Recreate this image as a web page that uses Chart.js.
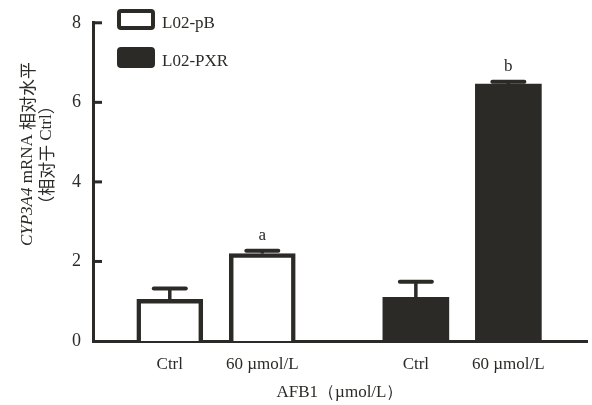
<!DOCTYPE html>
<html>
<head>
<meta charset="utf-8">
<script src="https://cdn.jsdelivr.net/npm/chart.js@4.4.1/dist/chart.umd.min.js"></script>
<style>
  html, body { margin: 0; padding: 0; background: #fff; }
  #wrap { width: 592px; height: 405px; }
</style>
</head>
<body>
<div id="wrap"><canvas id="mrnaChart" width="592" height="405"></canvas></div>
<script>
    // data
    var categories = ['Ctrl', '60 µmol/L'];
    var pbMeans = [1.05, 2.20];
    var pbErrors = [0.27, 0.07];
    var pxrMeans = [1.10, 6.46];
    var pxrErrors = [0.39, 0.06];
    var pbMarks = ['', 'a'];
    var pxrMarks = ['', 'b'];
    var yTicks = [0, 2, 4, 6, 8];

    var ink = '#2b2a26';
    var serif = '"Liberation Serif", "Times New Roman", serif';
    var cjk = '"Noto Sans CJK SC", sans-serif';
    var groupGap = 0.66;

    // x position of each bar: second group pushed right by a gap
    function barPos(group, i) {
        return group * categories.length + i + (group > 0 ? groupGap : 0);
    }
    var tickPositions = [];
    var tickNames = [];
    [0, 1].forEach(function (g) {
        categories.forEach(function (c, i) {
            tickPositions.push(barPos(g, i));
            tickNames.push(c);
        });
    });

    var errorBars = {
        id: 'errorBars',
        afterDatasetsDraw: function (chart) {
            var c = chart.ctx;
            var y = chart.scales.y;
            var sets = [[pbMeans, pbErrors, pbMarks], [pxrMeans, pxrErrors, pxrMarks]];
            c.save();
            sets.forEach(function (s, d) {
                var meta = chart.getDatasetMeta(d);
                meta.data.forEach(function (bar, i) {
                    var top = y.getPixelForValue(s[0][i]);
                    var cap = y.getPixelForValue(s[0][i] + s[1][i]);
                    c.strokeStyle = ink;
                    c.lineCap = 'butt';
                    c.lineWidth = 3.5;
                    c.beginPath();
                    c.moveTo(bar.x, top);
                    c.lineTo(bar.x, cap);
                    c.stroke();
                    c.lineCap = 'round';
                    c.lineWidth = 4;
                    c.beginPath();
                    c.moveTo(bar.x - 16, cap);
                    c.lineTo(bar.x + 16, cap);
                    c.stroke();
                    if (s[2][i]) {
                        c.fillStyle = ink;
                        c.font = '17px ' + serif;
                        c.textAlign = 'center';
                        c.textBaseline = 'alphabetic';
                        c.fillText(s[2][i], bar.x, cap - 10.5);
                    }
                });
            });
            c.restore();
        }
    };

    var extras = {
        id: 'extras',
        afterDraw: function (chart) {
            var c = chart.ctx;
            var y = chart.scales.y;
            var left = chart.chartArea.left;
            c.save();
            // inward tick marks
            c.strokeStyle = ink;
            c.lineWidth = 3;
            c.lineCap = 'butt';
            yTicks.forEach(function (v) {
                var py = y.getPixelForValue(v);
                if (v === 0) return;
                c.beginPath();
                c.moveTo(left, py);
                c.lineTo(left + 9, py);
                c.stroke();
            });

            // legend
            var items = [['L02-pB', '#ffffff'], ['L02-PXR', ink]];
            items.forEach(function (it, k) {
                var bx = 117, by = 9 + k * 38;
                c.beginPath();
                c.roundRect(bx + 2, by + 2, 34, 17, 2);
                c.fillStyle = it[1];
                c.fill();
                c.lineWidth = 4;
                c.strokeStyle = ink;
                c.stroke();
                c.fillStyle = ink;
                c.font = '17px ' + serif;
                c.textAlign = 'left';
                c.textBaseline = 'middle';
                c.fillText(it[0], 162, by + 15);
            });

            // y axis title, two lines, rotated
            c.fillStyle = ink;
            c.textBaseline = 'middle';
            var partsA = [['CYP3A4', 'italic 17px ' + serif], [' mRNA ', '17px ' + serif], ['相对水平', '17px ' + cjk]];
            var partsB = [['（相对于 ', '17px ' + cjk], ['Ctrl', '17px ' + serif], ['）', '17px ' + cjk]];
            function drawLine(parts, cx, cy) {
                var w = 0;
                parts.forEach(function (p) { c.font = p[1]; w += c.measureText(p[0]).width; });
                c.save();
                c.translate(cx, cy);
                c.rotate(-Math.PI / 2);
                var x = -w / 2;
                c.textAlign = 'left';
                parts.forEach(function (p) {
                    c.font = p[1];
                    c.fillText(p[0], x, 0);
                    x += c.measureText(p[0]).width;
                });
                c.restore();
            }
            drawLine(partsA, 28, 154);
            drawLine(partsB, 47, 155);
            c.restore();
        }
    };

    var ctx = document.getElementById('mrnaChart').getContext('2d');
    var mrnaChart = new Chart(ctx, {
        type: 'bar',
        data: {
            datasets: [{
                label: 'L02-pB',
                data: pbMeans.map(function (v, i) { return { x: barPos(0, i), y: v }; }),
                backgroundColor: '#ffffff',
                borderColor: ink,
                borderWidth: 4.5
            }, {
                label: 'L02-PXR',
                data: pxrMeans.map(function (v, i) { return { x: barPos(1, i), y: v }; }),
                backgroundColor: ink,
                borderColor: ink,
                borderWidth: 0
            }]
        },
        options: {
            responsive: false,
            animation: false,
            layout: { padding: { top: 13, right: 5, left: 0, bottom: 0 } },
            plugins: {
                legend: { display: false },
                tooltip: { enabled: false }
            },
            datasets: {
                bar: { grouped: false, barThickness: 66 }
            },
            scales: {
                x: {
                    type: 'linear',
                    offset: false,
                    min: -0.83,
                    max: 4.51,
                    z: 1,
                    afterFit: function (scale) { scale.height = 64; },
                    afterBuildTicks: function (scale) {
                        scale.ticks = tickPositions.map(function (v) { return { value: v }; });
                    },
                    grid: { display: false, drawTicks: false },
                    border: { display: true, color: ink, width: 3 },
                    ticks: {
                        color: ink,
                        font: { family: serif, size: 17 },
                        padding: 13,
                        maxRotation: 0,
                        autoSkip: false,
                        callback: function (value, index) { return tickNames[index]; }
                    },
                    title: {
                        display: true,
                        text: 'AFB1（µmol/L）',
                        color: ink,
                        font: { family: serif, size: 17 },
                        padding: { top: 0, bottom: 2 }
                    }
                },
                y: {
                    min: 0,
                    max: 8,
                    afterFit: function (scale) { scale.width = 93; },
                    afterBuildTicks: function (scale) {
                        scale.ticks = yTicks.map(function (v) { return { value: v }; });
                    },
                    grid: { display: false, drawTicks: false },
                    border: { display: true, color: ink, width: 3 },
                    ticks: {
                        color: ink,
                        font: { family: serif, size: 18 },
                        padding: 12
                    }
                }
            }
        },
        plugins: [errorBars, extras]
    });
</script>
</body>
</html>
